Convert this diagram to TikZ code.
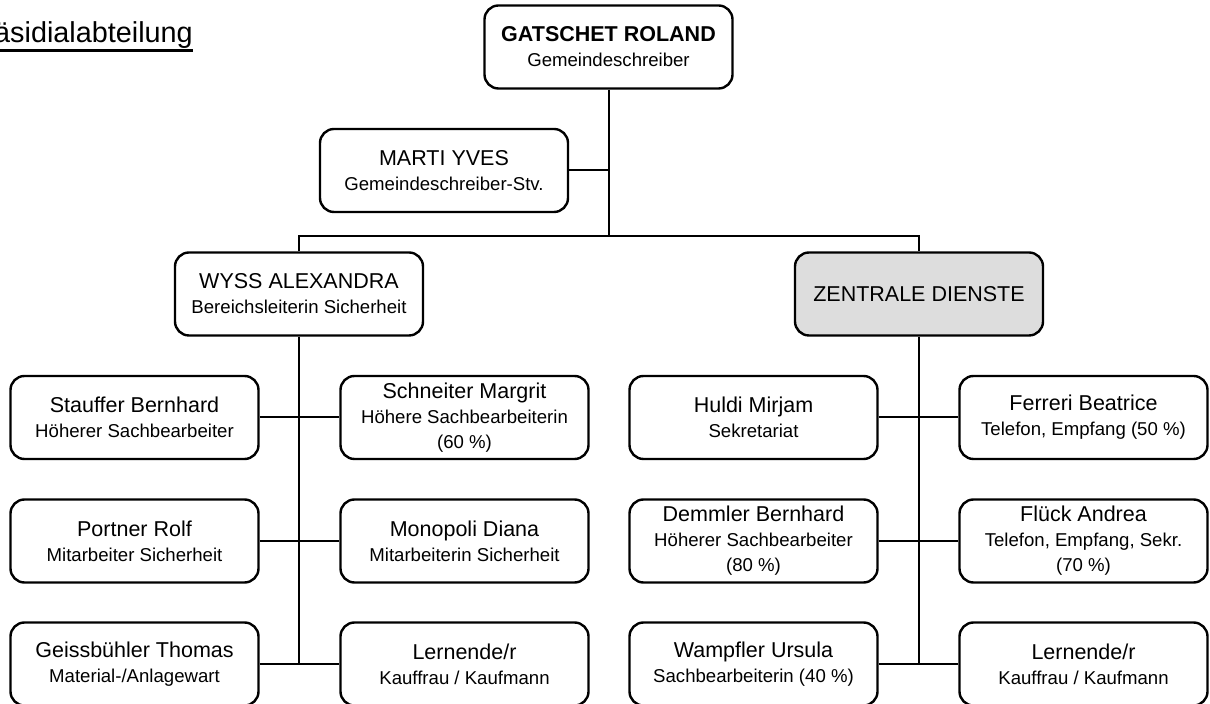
\documentclass[tikz,border=0pt]{standalone}
\usepackage{fontspec}
\setmainfont{Liberation Sans}
\usepackage{tikz}

\definecolor{zdgray}{RGB}{221,221,221}
\newcommand{\rolle}[1]{\\{\fontsize{9.3}{12.5}\selectfont #1}}

\tikzset{
	box/.style={draw, line width=1.2pt, rounded corners=7pt, minimum width=124pt, minimum height=41.5pt, align=center, inner sep=2pt, font=\fontsize{10.75}{12.5}\selectfont},
	link/.style={line width=1pt}
}

\begin{document}
\begin{tikzpicture}[x=0.5pt, y=-0.5pt]
				\useasboundingbox (0,0) rectangle (1210,704);
				\path (-35,43) node[anchor=base west, inner sep=0pt, font=\fontsize{14.4}{17}\selectfont] (titel){Präsidialabteilung};
				\draw[line width=1.2pt] ([yshift=-3.8pt]titel.base west) -- ([yshift=-3.8pt]titel.base east);
				
				\path (608.5,47) node[box] (chef){\textbf{GATSCHET ROLAND}\rolle{Gemeindeschreiber}}
				(444,170.5) node[box] (stv){MARTI YVES\rolle{Gemeindeschreiber-Stv.}}
				(299,294) node[box] (sich){WYSS ALEXANDRA\rolle{Bereichsleiterin Sicherheit}}
				(919,294) node[box, fill=zdgray] (zd){ZENTRALE DIENSTE};
				
				\path (134.5,417.5) node[box] (s1){Stauffer Bernhard\rolle{Höherer Sachbearbeiter}}
				(464.5,417.5) node[box] (s2){Schneiter Margrit\rolle{Höhere Sachbearbeiterin}\rolle{(60 \%)}}
				(134.5,541) node[box] (s3){Portner Rolf\rolle{Mitarbeiter Sicherheit}}
				(464.5,541) node[box] (s4){Monopoli Diana\rolle{Mitarbeiterin Sicherheit}}
				(134.5,664) node[box] (s5){Geissbühler Thomas\rolle{Material-/Anlagewart}}
				(464.5,664) node[box] (s6){Lernende/r\rolle{Kauffrau / Kaufmann}};
				
				\path (753.5,417.5) node[box] (z1){Huldi Mirjam\rolle{Sekretariat}}
				(1083.5,417.5) node[box] (z2){Ferreri Beatrice\rolle{Telefon, Empfang (50 \%)}}
				(753.5,541) node[box] (z3){Demmler Bernhard\rolle{Höherer Sachbearbeiter}\rolle{(80 \%)}}
				(1083.5,541) node[box] (z4){Flück Andrea\rolle{Telefon, Empfang, Sekr.}\rolle{(70 \%)}}
				(753.5,664) node[box] (z5){Wampfler Ursula\rolle{Sachbearbeiterin (40 \%)}}
				(1083.5,664) node[box] (z6){Lernende/r\rolle{Kauffrau / Kaufmann}};
				
				\coordinate (ast) at (608.5,236);
				\draw[link] (chef) -- (ast)
				(stv) -- (stv -| chef)
				(sich) |- (ast) -| (zd);
				
				\draw[link] (sich) -- (sich |- s5)
				(s1) -- (s2)
				(s3) -- (s4)
				(s5) -- (s6);
				
				\draw[link] (zd) -- (zd |- z5)
				(z1) -- (z2)
				(z3) -- (z4)
				(z5) -- (z6);
			\end{tikzpicture}
\end{document}
